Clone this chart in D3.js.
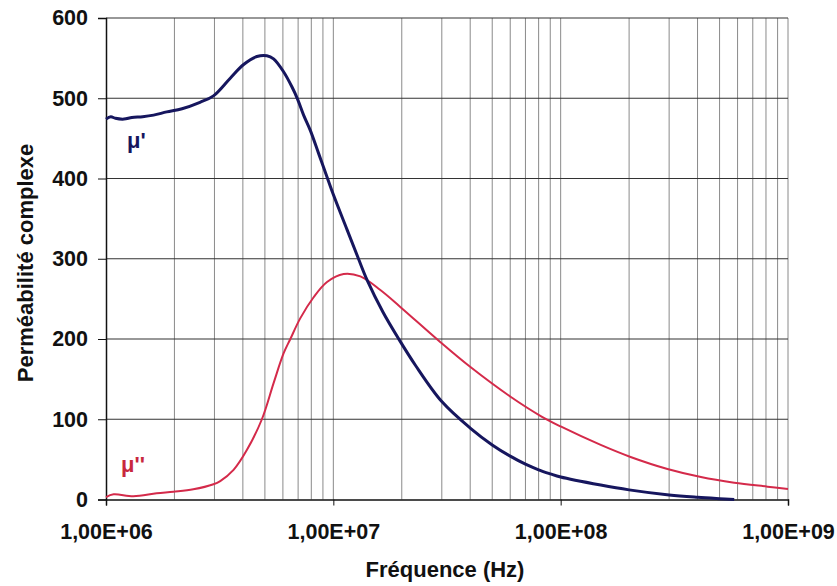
<!DOCTYPE html>
<html>
<head>
<meta charset="utf-8">
<script src="https://cdn.jsdelivr.net/npm/d3@7"></script>
<style>
  html, body { margin: 0; padding: 0; background: #fff; }
  svg { display: block; }
  text { font-family: "Liberation Sans", Arial, sans-serif; font-weight: bold; fill: #111; }
</style>
</head>
<body>
<svg id="chart" width="837" height="586"></svg>
<script>
// Data
const freqMu1 = [1.0e6, 1.05e6, 1.1e6, 1.2e6, 1.3e6, 1.45e6, 1.62e6, 1.85e6, 2.16e6, 2.59e6, 2.97e6,
  3.52e6, 4.03e6, 4.61e6, 5.1e6, 5.46e6, 6.04e6, 6.58e6, 6.96e6, 7.4e6, 7.92e6, 8.62e6, 9.38e6,
  1e7, 1.15e7, 1.29e7, 1.41e7, 1.65e7, 1.94e7, 2.3e7, 3e7, 4e7, 5e7, 6e7, 7e7, 8e7, 9e7,
  1e8, 1.5e8, 2e8, 3e8, 4e8, 5e8, 5.8e8];
const valMu1 = [474, 477, 475, 474, 476, 477, 479, 483, 487, 495, 503,
  525, 542, 552, 553, 549, 533, 514, 499, 479, 460, 431, 402,
  380, 336, 300, 273, 234, 200, 167, 122, 89, 68, 54, 44, 37, 32,
  28, 18, 12, 5.6, 2.7, 1, 0];

const freqMu2 = [1e6, 1.08e6, 1.32e6, 1.67e6, 1.98e6, 2.42e6, 2.97e6, 3.18e6, 3.64e6, 4.17e6,
  4.85e6, 5.46e6, 6.04e6, 6.47e6, 7.16e6, 8.19e6, 9.38e6, 1.11e7, 1.315e7, 1.61e7, 1.97e7,
  2.96e7, 4.01e7, 6.02e7, 8.17e7, 1e8, 1.5e8, 2.03e8, 2.95e8, 4.14e8, 5.8e8, 8.13e8, 1e9];
const valMu2 = [3, 6.5, 4, 7.7, 9.7, 12.7, 19, 23, 37, 62,
  100, 145, 182, 200, 226, 252, 271, 281, 278, 261, 240,
  196, 165, 128, 104, 91, 68, 53, 38, 28, 21, 16, 13];

const xTickValues = [1e6, 1e7, 1e8, 1e9];
const xTickLabels = ["1,00E+06", "1,00E+07", "1,00E+08", "1,00E+09"];
const yTickValues = [0, 100, 200, 300, 400, 500, 600];

const seriesNames = ["\u03bc'", "\u03bc''"];
const xTitle = "Fréquence (Hz)";
const yTitle = "Perméabilité complexe";

const svg = d3.select("#chart");
const mLeft = 106, mRight = 788, mTop = 18, mBottom = 499.5;

const x = d3.scaleLog().domain([1e6, 1e9]).range([mLeft, mRight]);
const y = d3.scaleLinear().domain([0, 600]).range([mBottom, mTop]);

// minor vertical grid lines
const minor = [];
for (let e = 6; e < 9; e++) for (let m = 2; m <= 9; m++) minor.push(m * Math.pow(10, e));
const gridV = minor.concat([1e7, 1e8, 1e9]);
svg.append("g").selectAll("line").data(gridV).join("line")
  .attr("x1", d => x(d)).attr("x2", d => x(d))
  .attr("y1", mTop).attr("y2", mBottom)
  .attr("stroke", "#8a8a8a").attr("stroke-width", 1);

// horizontal grid
svg.append("g").selectAll("line").data(yTickValues.filter(d => d > 0)).join("line")
  .attr("x1", mLeft).attr("x2", mRight)
  .attr("y1", d => y(d)).attr("y2", d => y(d))
  .attr("stroke", "#333").attr("stroke-width", 1.2);

// y axis
const yAxis = d3.axisLeft(y).tickValues(yTickValues).tickSize(8).tickPadding(10).tickFormat(d3.format("d"));
const gy = svg.append("g").attr("transform", `translate(${mLeft},0)`).call(yAxis);
gy.select(".domain").attr("stroke", "#111").attr("stroke-width", 1.5);
gy.selectAll(".tick line").attr("stroke", "#111");
gy.selectAll(".tick text").style("font-size", "21.5px").attr("fill", "#111");

// x axis
const xAxis = d3.axisBottom(x).tickValues(xTickValues).tickSize(6).tickPadding(18)
  .tickFormat((d, i) => xTickLabels[i]);
const gx = svg.append("g").attr("transform", `translate(0,${mBottom})`).call(xAxis);
gx.select(".domain").attr("stroke", "#111").attr("stroke-width", 1.5);
gx.selectAll(".tick line").attr("stroke", "#111");
gx.selectAll(".tick text").style("font-size", "21.5px").attr("fill", "#111");

// lines
const line = d3.line().x(d => x(d[0])).y(d => y(d[1])).curve(d3.curveCatmullRom.alpha(0.5));
svg.append("path").datum(d3.zip(freqMu2, valMu2)).attr("d", line)
  .attr("fill", "none").attr("stroke", "#d42a4a").attr("stroke-width", 2);
svg.append("path").datum(d3.zip(freqMu1, valMu1)).attr("d", line)
  .attr("fill", "none").attr("stroke", "#16165e").attr("stroke-width", 3);

// series labels
svg.append("text").attr("x", 127).attr("y", 148).style("font-size", "22px")
  .style("fill", "#16165e").text(seriesNames[0]);
svg.append("text").attr("x", 121).attr("y", 472).style("font-size", "22px")
  .style("fill", "#c8283e").text(seriesNames[1]);

// axis titles
svg.append("text").attr("x", 445).attr("y", 577).attr("text-anchor", "middle")
  .style("font-size", "22px").text(xTitle);
svg.append("text").attr("transform", `translate(33,263) rotate(-90)`).attr("text-anchor", "middle")
  .style("font-size", "22px").text(yTitle);
</script>
</body>
</html>
